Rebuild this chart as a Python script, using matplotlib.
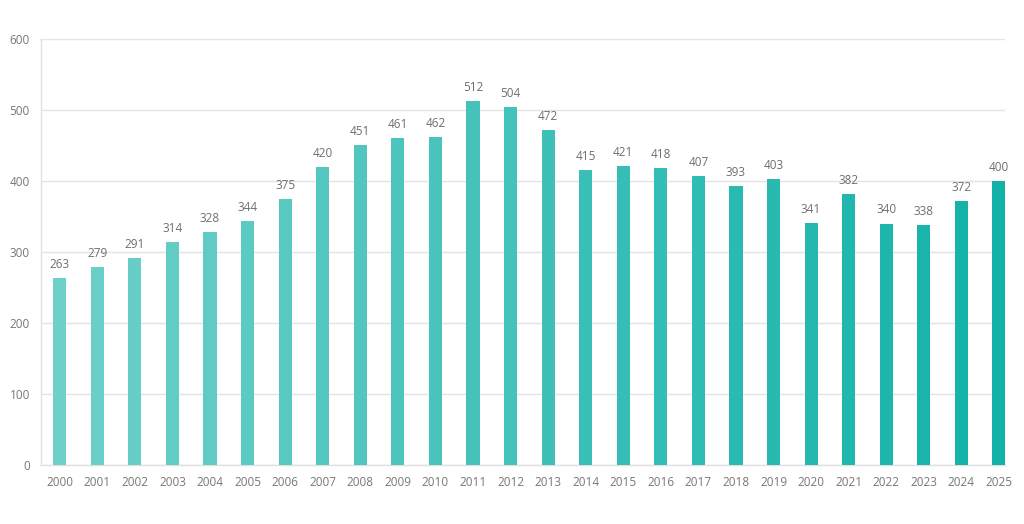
import matplotlib
matplotlib.use("Agg")
import matplotlib.pyplot as plt
import numpy as np
from matplotlib.colors import LinearSegmentedColormap

years = [str(y) for y in range(2000, 2026)]
values = [263, 279, 291, 314, 328, 344, 375, 420, 451, 461, 462, 512, 504, 472,
          415, 421, 418, 407, 393, 403, 341, 382, 340, 338, 372, 400]

plt.rcParams['font.family'] = ['Open Sans', 'DejaVu Sans']

fig = plt.figure(figsize=(10.24, 5.24), dpi=100)
ax = fig.add_axes([0.040, 0.1126, 0.941, 0.813])

cmap = LinearSegmentedColormap.from_list('teal', ['#6dd0c9', '#12b2a9'])
x = np.arange(len(years))
colors = [cmap(i / (len(years) - 1)) for i in range(len(years))]
bars = ax.bar(x, values, width=0.35, color=colors, zorder=3)

for xi, v in zip(x, values):
    ax.text(xi, v + 10, str(v), ha='center', va='bottom', fontsize=8.5, color='#6e6e6e')

ax.set_ylim(0, 600)
ax.set_xlim(-0.5, 25.15)
ax.set_yticks(range(0, 601, 100))
ax.set_xticks(x)
ax.set_xticklabels(years)
ax.tick_params(axis='both', length=0, labelsize=8.5, colors='#777777')
ax.tick_params(axis='x', pad=8)
ax.tick_params(axis='y', pad=8)
ax.grid(axis='y', color='#e3e3e3', linewidth=1, zorder=0)
for side in ['top', 'right']:
    ax.spines[side].set_visible(False)
for side in ['left', 'bottom']:
    ax.spines[side].set_color('#e0e0e0')
    ax.spines[side].set_linewidth(1)

fig.savefig('out.png', dpi=100)
